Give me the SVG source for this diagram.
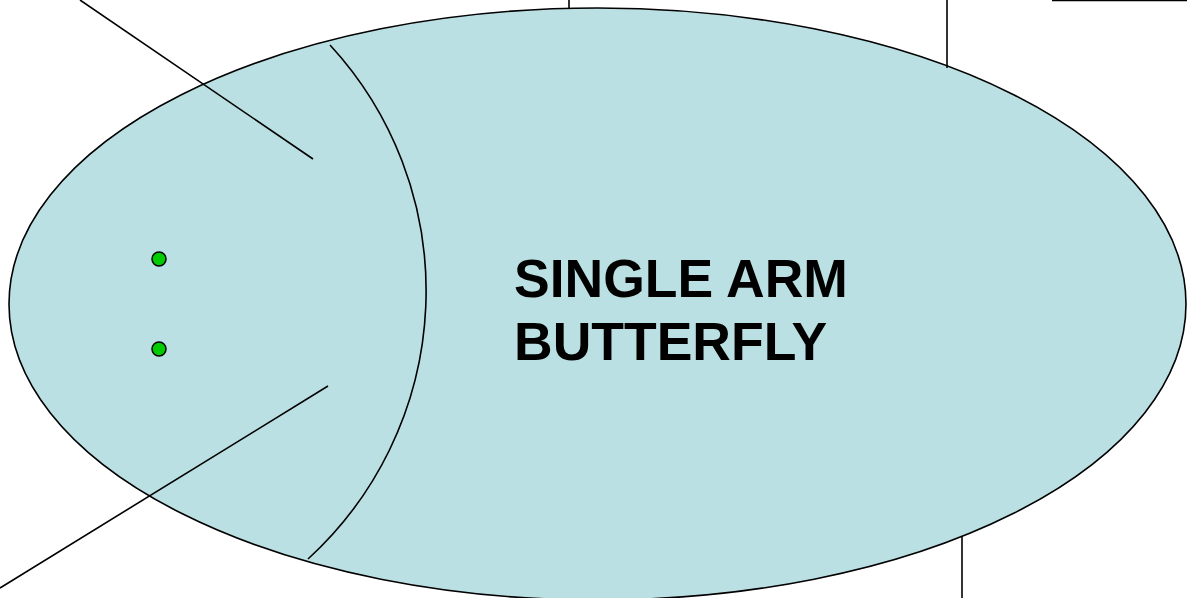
<svg xmlns="http://www.w3.org/2000/svg" width="1187" height="598" viewBox="0 0 1187 598">
<style>
.ln{stroke:#000;stroke-width:1.6;fill:none}
.dot{fill:#00CC00;stroke:#000;stroke-width:1.5}
.lbl{font-family:"Liberation Sans",Arial,sans-serif;font-weight:bold;font-size:53.5px;fill:#000}
</style>
<rect width="1187" height="598" fill="#fff"/>
<g id="body">
<ellipse cx="597.5" cy="304" rx="588.5" ry="296" fill="#BBE0E3" stroke="#000" stroke-width="1.6"/>
</g>
<g id="disc">
<path class="ln" d="M330,45 A363,363 0 0 1 308,559"/>
</g>
<g id="dot1"><circle class="dot" cx="159" cy="259" r="7"/></g>
<g id="dot2"><circle class="dot" cx="159" cy="349" r="7"/></g>
<g id="label">
<text class="lbl" x="514" y="297">SINGLE ARM</text>
<text class="lbl" x="514" y="360">BUTTERFLY</text>
</g>
<g id="connectors">
<line class="ln" x1="80" y1="0" x2="313" y2="159"/>
<line class="ln" x1="0" y1="588" x2="328" y2="386"/>
<line class="ln" x1="569" y1="0" x2="569" y2="9"/>
<line class="ln" x1="947" y1="0" x2="947" y2="68"/>
<line class="ln" x1="962" y1="536" x2="962" y2="598"/>
<line class="ln" x1="1052" y1="0.5" x2="1187" y2="0.5"/>
</g>
</svg>
